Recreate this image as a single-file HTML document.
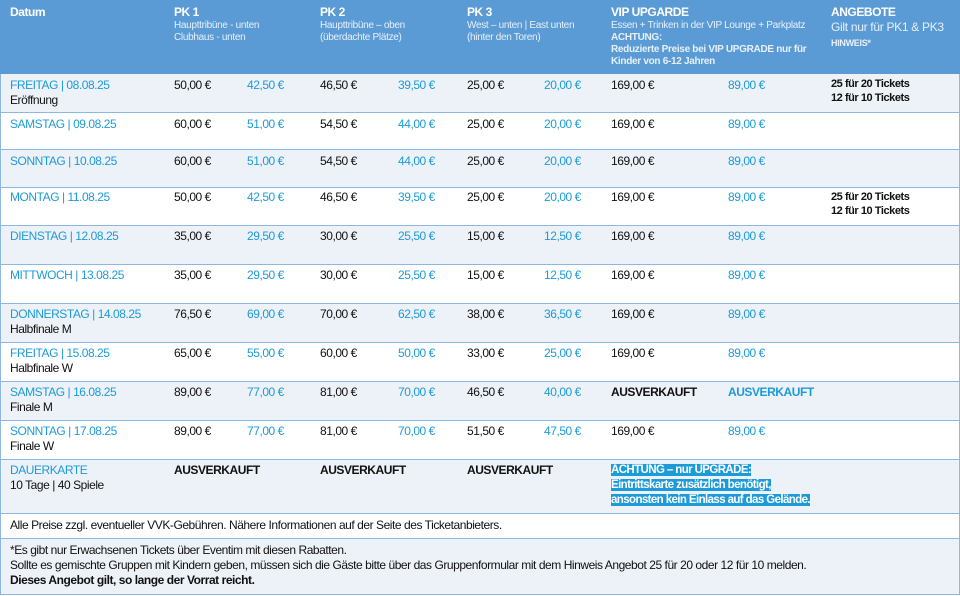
<!DOCTYPE html>
<html><head><meta charset="utf-8"><style>
*{margin:0;padding:0;box-sizing:border-box}
body{width:960px;height:596px;background:#fff;font-family:"Liberation Sans Narrow","Liberation Sans",sans-serif;font-size:12px;color:#111;position:relative;overflow:hidden;letter-spacing:-0.45px}
.r{position:absolute;left:0;width:960px;border:1px solid #8db6e0;border-top:none}
.a{background:#edf1f8}
.c{position:absolute;line-height:15px;white-space:nowrap}
.b{color:#1d9bd8}
.bd{font-weight:bold}
.hd{position:absolute;left:0;top:0;width:960px;height:74px;background:#5b9bd5;color:#fff}
.hd .t{position:absolute;top:5px;font-weight:bold;font-size:12px;line-height:15px}
.hd .s{position:absolute;top:20px;font-size:10px;line-height:12px;color:#e6f0fa;letter-spacing:-0.3px}
</style></head><body>
<div class="hd">
<div class="t" style="left:10px">Datum</div>
<div class="t" style="left:174px">PK 1</div><div class="s" style="left:174px">Haupttribüne - unten<br>Clubhaus - unten</div>
<div class="t" style="left:320px">PK 2</div><div class="s" style="left:320px">Haupttribüne – oben<br>(überdachte Plätze)</div>
<div class="t" style="left:467px">PK 3</div><div class="s" style="left:467px">West – unten | East unten<br>(hinter den Toren)</div>
<div class="t" style="left:611px">VIP UPGARDE</div><div class="s" style="left:611px">Essen + Trinken in der VIP Lounge + Parkplatz<br><b>ACHTUNG:</b><br><b>Reduzierte Preise bei VIP UPGRADE nur für</b><br><b>Kinder von 6-12 Jahren</b></div>
<div class="t" style="left:831px">ANGEBOTE</div><div class="s" style="left:831px;font-size:12px;line-height:15px">Gilt nur für PK1 &amp; PK3<br><b style="font-size:9px">HINWEIS*</b></div>
</div>

<div class="r a" style="top:74px;height:39px"><div class="c" style="left:9px;top:4px"><span class="b">FREITAG | 08.08.25</span><br>Eröffnung</div><div class="c" style="left:173px;top:4px">50,00 €</div><div class="c b" style="left:246px;top:4px">42,50 €</div><div class="c" style="left:319px;top:4px">46,50 €</div><div class="c b" style="left:397px;top:4px">39,50 €</div><div class="c" style="left:466px;top:4px">25,00 €</div><div class="c b" style="left:543px;top:4px">20,00 €</div><div class="c" style="left:610px;top:4px">169,00 €</div><div class="c b" style="left:727px;top:4px">89,00 €</div><div class="c bd" style="left:830px;top:3px;font-size:11px;line-height:14px">25 für 20 Tickets<br>12 für 10 Tickets</div></div>

<div class="r" style="top:113px;height:37px"><div class="c b" style="left:9px;top:4px">SAMSTAG | 09.08.25</div><div class="c" style="left:173px;top:4px">60,00 €</div><div class="c b" style="left:246px;top:4px">51,00 €</div><div class="c" style="left:319px;top:4px">54,50 €</div><div class="c b" style="left:397px;top:4px">44,00 €</div><div class="c" style="left:466px;top:4px">25,00 €</div><div class="c b" style="left:543px;top:4px">20,00 €</div><div class="c" style="left:610px;top:4px">169,00 €</div><div class="c b" style="left:727px;top:4px">89,00 €</div></div>

<div class="r a" style="top:150px;height:38px"><div class="c b" style="left:9px;top:4px">SONNTAG | 10.08.25</div><div class="c" style="left:173px;top:4px">60,00 €</div><div class="c b" style="left:246px;top:4px">51,00 €</div><div class="c" style="left:319px;top:4px">54,50 €</div><div class="c b" style="left:397px;top:4px">44,00 €</div><div class="c" style="left:466px;top:4px">25,00 €</div><div class="c b" style="left:543px;top:4px">20,00 €</div><div class="c" style="left:610px;top:4px">169,00 €</div><div class="c b" style="left:727px;top:4px">89,00 €</div></div>

<div class="r" style="top:188px;height:38px"><div class="c b" style="left:9px;top:2px">MONTAG | 11.08.25</div><div class="c" style="left:173px;top:2px">50,00 €</div><div class="c b" style="left:246px;top:2px">42,50 €</div><div class="c" style="left:319px;top:2px">46,50 €</div><div class="c b" style="left:397px;top:2px">39,50 €</div><div class="c" style="left:466px;top:2px">25,00 €</div><div class="c b" style="left:543px;top:2px">20,00 €</div><div class="c" style="left:610px;top:2px">169,00 €</div><div class="c b" style="left:727px;top:2px">89,00 €</div><div class="c bd" style="left:830px;top:2px;font-size:11px;line-height:14px">25 für 20 Tickets<br>12 für 10 Tickets</div></div>

<div class="r a" style="top:226px;height:39px"><div class="c b" style="left:9px;top:3px">DIENSTAG | 12.08.25</div><div class="c" style="left:173px;top:3px">35,00 €</div><div class="c b" style="left:246px;top:3px">29,50 €</div><div class="c" style="left:319px;top:3px">30,00 €</div><div class="c b" style="left:397px;top:3px">25,50 €</div><div class="c" style="left:466px;top:3px">15,00 €</div><div class="c b" style="left:543px;top:3px">12,50 €</div><div class="c" style="left:610px;top:3px">169,00 €</div><div class="c b" style="left:727px;top:3px">89,00 €</div></div>

<div class="r" style="top:265px;height:39px"><div class="c b" style="left:9px;top:3px">MITTWOCH | 13.08.25</div><div class="c" style="left:173px;top:3px">35,00 €</div><div class="c b" style="left:246px;top:3px">29,50 €</div><div class="c" style="left:319px;top:3px">30,00 €</div><div class="c b" style="left:397px;top:3px">25,50 €</div><div class="c" style="left:466px;top:3px">15,00 €</div><div class="c b" style="left:543px;top:3px">12,50 €</div><div class="c" style="left:610px;top:3px">169,00 €</div><div class="c b" style="left:727px;top:3px">89,00 €</div></div>

<div class="r a" style="top:304px;height:39px"><div class="c" style="left:9px;top:3px"><span class="b">DONNERSTAG | 14.08.25</span><br>Halbfinale M</div><div class="c" style="left:173px;top:3px">76,50 €</div><div class="c b" style="left:246px;top:3px">69,00 €</div><div class="c" style="left:319px;top:3px">70,00 €</div><div class="c b" style="left:397px;top:3px">62,50 €</div><div class="c" style="left:466px;top:3px">38,00 €</div><div class="c b" style="left:543px;top:3px">36,50 €</div><div class="c" style="left:610px;top:3px">169,00 €</div><div class="c b" style="left:727px;top:3px">89,00 €</div></div>

<div class="r" style="top:343px;height:39px"><div class="c" style="left:9px;top:3px"><span class="b">FREITAG | 15.08.25</span><br>Halbfinale W</div><div class="c" style="left:173px;top:3px">65,00 €</div><div class="c b" style="left:246px;top:3px">55,00 €</div><div class="c" style="left:319px;top:3px">60,00 €</div><div class="c b" style="left:397px;top:3px">50,00 €</div><div class="c" style="left:466px;top:3px">33,00 €</div><div class="c b" style="left:543px;top:3px">25,00 €</div><div class="c" style="left:610px;top:3px">169,00 €</div><div class="c b" style="left:727px;top:3px">89,00 €</div></div>

<div class="r a" style="top:382px;height:39px"><div class="c" style="left:9px;top:3px"><span class="b">SAMSTAG | 16.08.25</span><br>Finale M</div><div class="c" style="left:173px;top:3px">89,00 €</div><div class="c b" style="left:246px;top:3px">77,00 €</div><div class="c" style="left:319px;top:3px">81,00 €</div><div class="c b" style="left:397px;top:3px">70,00 €</div><div class="c" style="left:466px;top:3px">46,50 €</div><div class="c b" style="left:543px;top:3px">40,00 €</div><div class="c bd" style="left:610px;top:3px">AUSVERKAUFT</div><div class="c b bd" style="left:727px;top:3px">AUSVERKAUFT</div></div>

<div class="r" style="top:421px;height:39px"><div class="c" style="left:9px;top:3px"><span class="b">SONNTAG | 17.08.25</span><br>Finale W</div><div class="c" style="left:173px;top:3px">89,00 €</div><div class="c b" style="left:246px;top:3px">77,00 €</div><div class="c" style="left:319px;top:3px">81,00 €</div><div class="c b" style="left:397px;top:3px">70,00 €</div><div class="c" style="left:466px;top:3px">51,50 €</div><div class="c b" style="left:543px;top:3px">47,50 €</div><div class="c" style="left:610px;top:3px">169,00 €</div><div class="c b" style="left:727px;top:3px">89,00 €</div></div>

<div class="r a" style="top:460px;height:54px"><div class="c" style="left:9px;top:3px"><span class="b">DAUERKARTE</span><br>10 Tage | 40 Spiele</div><div class="c bd" style="left:173px;top:3px">AUSVERKAUFT</div><div class="c bd" style="left:319px;top:3px">AUSVERKAUFT</div><div class="c bd" style="left:466px;top:3px">AUSVERKAUFT</div><div class="c bd" style="left:610px;top:3px;color:#fff;font-size:11.5px;letter-spacing:-0.6px"><span style="background:#1d9bd8">ACHTUNG – nur UPGRADE:</span><br><span style="background:#1d9bd8">Eintrittskarte zusätzlich benötigt,</span><br><span style="background:#1d9bd8">ansonsten kein Einlass auf das Gelände.</span></div></div>

<div class="r" style="top:514px;height:25px"><div class="c" style="left:9px;top:4px">Alle Preise zzgl. eventueller VVK-Gebühren. Nähere Informationen auf der Seite des Ticketanbieters.</div></div>

<div class="r a" style="top:539px;height:56px"><div class="c" style="left:9px;top:4px">*Es gibt nur Erwachsenen Tickets über Eventim mit diesen Rabatten.<br>Sollte es gemischte Gruppen mit Kindern geben, müssen sich die Gäste bitte über das Gruppenformular mit dem Hinweis Angebot 25 für 20 oder 12 für 10 melden.<br><b>Dieses Angebot gilt, so lange der Vorrat reicht.</b></div></div>
</body></html>
